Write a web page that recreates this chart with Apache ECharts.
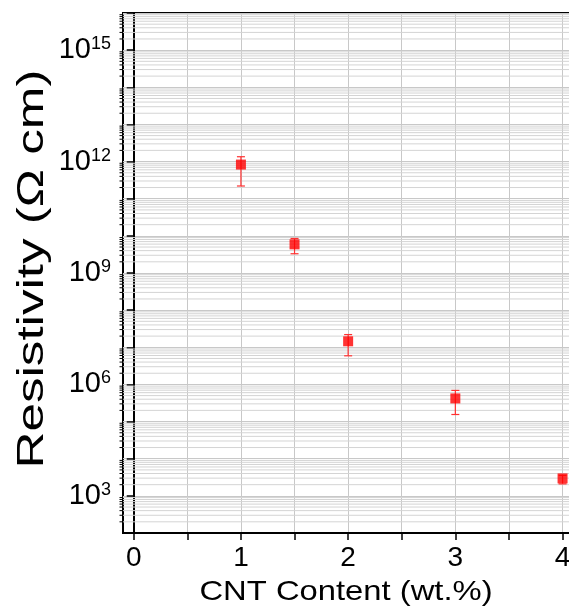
<!DOCTYPE html>
<html><head><meta charset="utf-8">
<script src="https://cdn.jsdelivr.net/npm/echarts@6/dist/echarts.min.js"></script>
<style>html,body{margin:0;padding:0;background:#fff;overflow:hidden;width:569px;height:608px}#c{width:640px;height:608px}</style>
</head><body><div id="c"></div>
<script>
// ---- data ----
const cntContent = [1, 1.5, 2, 3, 4];                         // wt.%
const resistivity = [8.3e11, 5.9e9, 1.45e7, 4.2e5, 2950];      // Ω cm
const errLow  = [2.2e11, 3.3e9, 5.9e6, 1.55e5, 2100];
const errHigh = [1.35e12, 8.5e9, 2.2e7, 6.9e5, 3550];
const xTickValues = [0, 0.5, 1, 1.5, 2, 2.5, 3, 3.5, 4];
const xLabelValues = [0, 1, 2, 3, 4];
const yLabelExponents = [3, 6, 9, 12, 15];
const yDecades = [2,3,4,5,6,7,8,9,10,11,12,13,14,15];
const minorMultipliers = [2,3,4,5,6,7,8,9];
const xTitle = 'CNT Content (wt.%)';
const yTitle = 'Resistivity (Ω cm)';

const X_MIN = -0.1, X_MAX = 4.2;
const minorVals = [];
yDecades.forEach(d => minorMultipliers.forEach(m => minorVals.push(m * Math.pow(10, d))));

const FONT = 'Liberation Sans, Arial, sans-serif';
const chart = echarts.init(document.getElementById('c'), null, {renderer: 'canvas'});
chart.setOption({
  animation: false,
  backgroundColor: '#fff',
  grid: {left: 123, top: 13, bottom: 75, width: 461, show: true, borderColor: '#000', borderWidth: 2,
    backgroundColor: 'transparent', containLabel: false, outerBoundsMode: 'none'},
  graphic: [
    {type: 'text', x: 33, y: 269, rotation: Math.PI / 2, scaleX: 1.42, silent: true,
      style: {text: yTitle, font: '36px "Liberation Sans", Arial, sans-serif', fill: '#000',
        align: 'center', verticalAlign: 'middle', textAlign: 'center', textVerticalAlign: 'middle'}},
    {type: 'text', x: 346, y: 592, scaleX: 1.17, silent: true,
      style: {text: xTitle, font: '28px "Liberation Sans", Arial, sans-serif', fill: '#000',
        align: 'center', verticalAlign: 'middle', textAlign: 'center', textVerticalAlign: 'middle'}}
  ],
  xAxis: {
    type: 'value', min: X_MIN, max: X_MAX,
    axisLine: {lineStyle: {color: '#000', width: 2}},
    axisTick: {show: true, inside: false, length: 7, customValues: xTickValues, lineStyle: {color: '#000', width: 1.5}},
    axisLabel: {customValues: xLabelValues, fontFamily: FONT, fontSize: 28, color: '#000', margin: 11,
      formatter: v => String(v)},
    splitLine: {show: true, lineStyle: {color: '#c8c8c8', width: 1}}
  },
  yAxis: {
    type: 'log', logBase: 10, min: 1e2, max: 1e16, interval: 1,
    axisLine: {lineStyle: {color: '#000', width: 2}},
    axisTick: {show: true, inside: false, length: 7, lineStyle: {color: '#000', width: 1.5}},
    axisLabel: {
      fontFamily: FONT, color: '#000', margin: 12,
      formatter: v => {
        const e = Math.round(Math.log10(v));
        return yLabelExponents.indexOf(e) >= 0 ? '{b|10}{s|' + e + '}' : '';
      },
      rich: {
        b: {fontFamily: FONT, fontSize: 29, color: '#000', lineHeight: 30},
        s: {fontFamily: FONT, fontSize: 18, color: '#000', verticalAlign: 'top', lineHeight: 17}
      }
    },
    splitLine: {show: true, lineStyle: {color: '#c8c8c8', width: 1}}
  },
  series: [
    {
      type: 'custom', silent: true, clip: false, z: 1,
      data: minorVals.map(v => [X_MIN, v]),
      renderItem: (params, api) => {
        const p = api.coord([X_MIN, api.value(1)]);
        const cs = params.coordSys;
        return {type: 'group', children: [
          {type: 'line', shape: {x1: cs.x, y1: p[1], x2: cs.x + cs.width, y2: p[1]}, style: {stroke: '#d4d4d4', lineWidth: 1}},
          {type: 'line', shape: {x1: cs.x - 3.5, y1: p[1], x2: cs.x, y2: p[1]}, style: {stroke: '#000', lineWidth: 1}}
        ]};
      }
    },
    {
      type: 'custom', z: 3,
      data: cntContent.map((x, i) => [x, errLow[i], errHigh[i]]),
      renderItem: (params, api) => {
        const lo = api.coord([api.value(0), api.value(1)]);
        const hi = api.coord([api.value(0), api.value(2)]);
        const w = 4;
        const st = {stroke: '#ff3030', lineWidth: 1.2};
        return {type: 'group', children: [
          {type: 'line', shape: {x1: lo[0], y1: lo[1], x2: hi[0], y2: hi[1]}, style: st},
          {type: 'line', shape: {x1: lo[0] - w, y1: lo[1], x2: lo[0] + w, y2: lo[1]}, style: st},
          {type: 'line', shape: {x1: hi[0] - w, y1: hi[1], x2: hi[0] + w, y2: hi[1]}, style: st}
        ]};
      }
    },
    {
      type: 'scatter', z: 4, symbol: 'rect', symbolSize: 10,
      itemStyle: {color: '#ff0000'},
      data: cntContent.map((x, i) => [x, resistivity[i]])
    }
  ]
});
</script></body></html>
